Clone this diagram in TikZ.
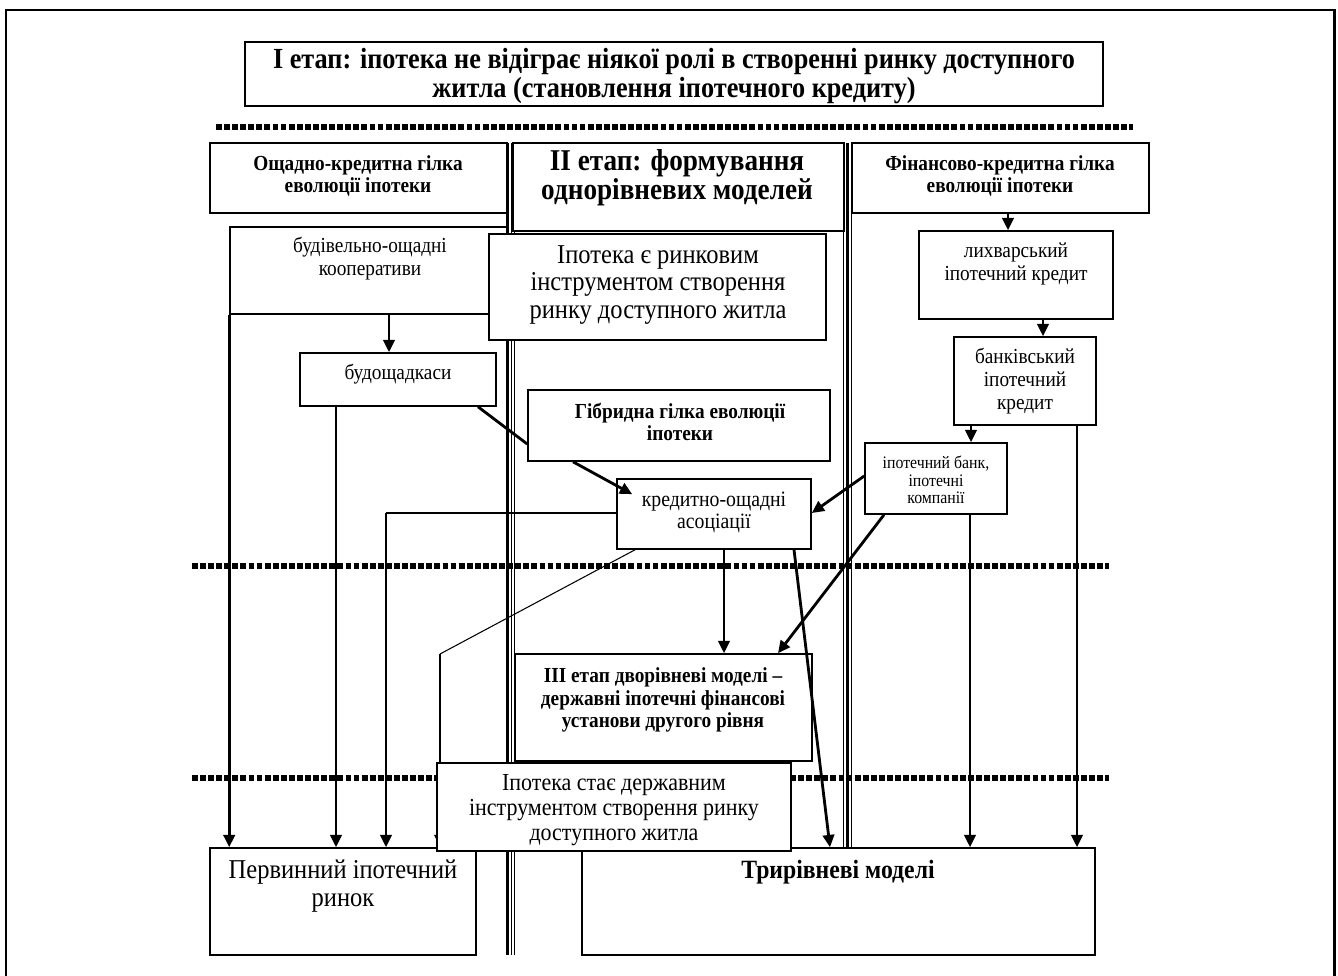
\documentclass[tikz,border=0pt]{standalone}
\usepackage{fontspec}
\setmainfont[FakeStretch=0.9]{Liberation Serif}
\usetikzlibrary{arrows.meta,fit,calc,backgrounds}
\newcommand\fzHead{\fontsize{16.6}{17}\selectfont\bfseries}
\newcommand\fzBr{\fontsize{12.2}{13}\selectfont\bfseries}
\newcommand\fzStage{\fontsize{17.2}{16.5}\selectfont\bfseries}
\newcommand\fzBig{\fontsize{15.5}{15.7}\selectfont}
\newcommand\fzMid{\fontsize{12.2}{13}\selectfont}
\newcommand\fzSm{\fontsize{10}{10}\selectfont}
\newcommand\fzKr{\fontsize{12.5}{12.5}\selectfont}
\newcommand\fzThree{\fontsize{12.2}{12.8}\selectfont\bfseries}
\newcommand\fzIpo{\fontsize{13.9}{14.2}\selectfont}
\newcommand\fzPerv{\fontsize{15.5}{15.5}\selectfont}
\newcommand\fzTri{\fontsize{15}{16}\selectfont\bfseries}
\begin{document}
\begin{tikzpicture}[x=0.02cm,y=-0.02cm,
  box/.style={draw, line width=0.9pt, fill=white, inner sep=0pt},
  txt/.style={align=center, inner sep=0pt},
  arr/.style={line width=1.6pt, -{Triangle[length=7pt,width=6.5pt]}},
  arrmed/.style={line width=1pt, -{Triangle[length=7pt,width=6.5pt]}},
  thickln/.style={line width=1.6pt},
  thinln/.style={line width=0.6pt},
  dots/.style={line width=3.1pt, dash pattern=on 3.3pt off 1.3pt},
  framel/.style={line width=1.7pt}]
\useasboundingbox (0,0) rectangle (1338,976);
% outer frame
\draw[framel] (6,976) -- (6,10) -- (1334,10) -- (1334,976);
% triple lines
\draw[line width=1.7pt] (507.5,143) -- (507.5,955);
\draw[line width=0.8pt] (511.5,143) -- (511.5,955);
\draw[line width=0.8pt] (514.5,143) -- (514.5,955);
\draw[line width=0.8pt] (843.5,143) -- (843.5,848);
\draw[line width=1.7pt] (847.5,143) -- (847.5,848);
\draw[line width=0.8pt] (851.5,143) -- (851.5,848);
% dotted stage separators
\draw[dots] (216,127) -- (1133,127);
\draw[dots] (192,566) -- (1109,566);
\draw[dots] (192,778) -- (1109,778);

% boxes
\node[box, fit={(245,42) (1103,106)}] (st1) {};
\node[txt, font=\fzHead] (st1t) at (674,76) {І етап: іпотека не відіграє ніякої ролі в створенні ринку доступного\\житла (становлення іпотечного кредиту)};

\node[box, fit={(210,143) (507,213)}] (osh) {};
\node[txt, font=\fzBr] (osht) at (358,176) {Ощадно-кредитна гілка\\еволюції іпотеки};

\node[box, fit={(513,143) (844,231)}] (st2) {};
\node[txt, font=\fzStage] (st2t) at (677,178) {II етап: формування\\однорівневих моделей};

\node[box, fit={(852,143) (1149,213)}] (fin) {};
\node[txt, font=\fzBr] (fint) at (1000,176) {Фінансово-кредитна гілка\\еволюції іпотеки};

\node[box, fit={(230,227) (507,314)}] (bud) {};
\node[txt, font=\fzMid] (budt) at (370,259) {будівельно-ощадні\\кооперативи};

\node[box, fit={(489,234) (826,340)}] (ipo1) {};
\node[txt, font=\fzBig] (ipo1t) at (658,285) {Іпотека є ринковим\\інструментом створення\\ринку доступного житла};

\node[box, fit={(300,353) (496,406)}] (budk) {};
\node[txt, font=\fzMid] (budkt) at (398,374) {будощадкаси};

\node[box, fit={(528,390) (830,461)}] (hyb) {};
\node[txt, font=\fzBr] (hybt) at (680,422) {Гібридна гілка еволюції\\іпотеки};

\node[box, fit={(919,231) (1113,319)}] (lykh) {};
\node[txt, font=\fzMid] (lykht) at (1016,264) {лихварський\\іпотечний кредит};

\node[box, fit={(954,337) (1096,425)}] (bank) {};
\node[txt, font=\fzMid] (bankt) at (1025,381) {банківський\\іпотечний\\кредит};

\node[box, fit={(865,443) (1007,514)}] (ipb) {};
\node[txt, font=\fzSm] (ipbt) at (936,480) {іпотечний банк,\\іпотечні\\компанії};

\node[box, fit={(617,479) (811,549)}] (kred) {};
\node[txt, font=\fzKr] (kredt) at (714,512) {кредитно-ощадні\\асоціації};

\node[box, fit={(515,654) (812,761)}] (st3) {};
\node[txt, font=\fzThree] (st3t) at (663,700) {III етап дворівневі моделі –\\державні іпотечні фінансові\\установи другого рівня};

\node[box, fit={(210,848) (476,955)}] (perv) {};
\node[txt, font=\fzPerv] (pervt) at (343,886) {Первинний іпотечний\\ринок};

\node[box, fit={(582,848) (1095,955)}] (tri) {};
\node[txt, font=\fzTri] (trit) at (838,872) {Трирівневі моделі};

% connectors hidden partly by boxes
\coordinate (c1) at (386,513);
\coordinate (c2) at (440,654);
\begin{scope}[on background layer]
\draw[thickln] (budk.south -| 478,0) -- (hyb.west |- 0,444);
\draw[thinln] (kred.south -| 635,0) -- (c2);
\draw[arrmed] (c2) -- (perv.north -| c2);
\end{scope}

\node[box, fit={(437,763) (791,851)}] (ipo2) {};
\node[txt, font=\fzIpo] (ipo2t) at (614,810) {Іпотека стає державним\\інструментом створення ринку\\доступного житла};

% connectors
\draw[arr] (bud.south -| 389,0) -- (budk.north -| 389,0);
\draw[arr] (bud.south west) -- (perv.north -| bud.south west);
\draw[arr] (budk.south -| 336,0) -- (perv.north -| 336,0);
\draw[arr] (hyb.south -| 573,0) -- ($(kred.north west)+(16,16)$);
\draw[thinln] (kred.west |- c1) -- (c1);
\draw[arr] (c1) -- (perv.north -| c1);
\draw[arr] (kred.south -| 724,0) -- (st3.north -| 724,0);
\draw[arr] (kred.south -| 794,0) -- (tri.north -| 830,0);
\draw[arr] (ipb.west |- 0,476) -- (kred.east |- 0,513);
\draw[arr] (ipb.south -| 884,0) -- (st3.north -| 778,0);
\draw[arr] (ipb.south -| 970,0) -- (tri.north -| 970,0);
\draw[arr] (bank.south -| 971,0) -- (ipb.north -| 971,0);
\draw[arr] (bank.south -| 1077,0) -- (tri.north -| 1077,0);
\draw[arr] (lykh.south -| 1043,0) -- (bank.north -| 1043,0);
\draw[arr] (fin.south -| 1008,0) -- (lykh.north -| 1008,0);
\end{tikzpicture}
\end{document}
